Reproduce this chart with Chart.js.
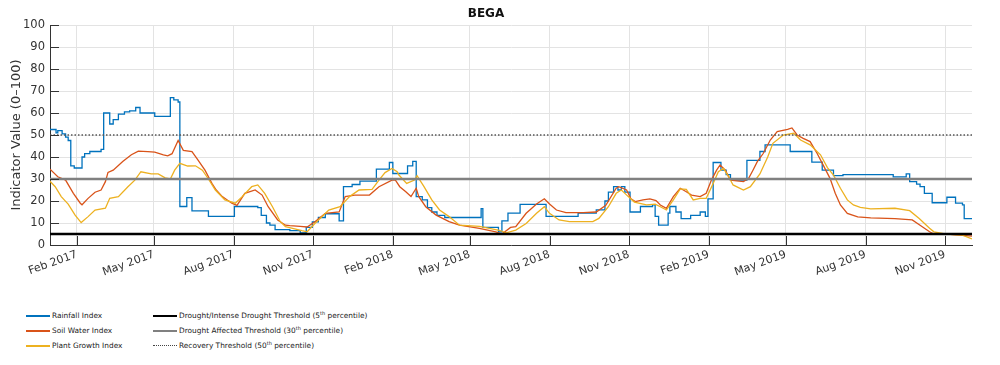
<!DOCTYPE html>
<html>
<head>
<meta charset="utf-8">
<script src="https://cdn.jsdelivr.net/npm/chart.js@4.4.1/dist/chart.umd.min.js"></script>
<style>
  body { margin: 0; background: #fff; }
  #wrap { position: relative; width: 1000px; height: 365px; }
  #chart { position: absolute; left: 0; top: 0; }
  .lg { position: absolute; font-family: "DejaVu Sans", sans-serif; font-size: 7.4px; color: #222; white-space: nowrap; line-height: 10px; }
  .lg i { position: absolute; left: -26px; top: 4px; width: 24px; height: 0; }
  .lg sup { font-size: 5px; line-height: 0; }
</style>
</head>
<body>
<div id="wrap">
  <canvas id="chart" width="1000" height="295"></canvas>
  <div class="lg" style="left:52px;top:311px"><i style="border-top:2px solid #0072BD"></i>Rainfall Index</div>
  <div class="lg" style="left:52px;top:326px"><i style="border-top:2px solid #D95319"></i>Soil Water Index</div>
  <div class="lg" style="left:52px;top:341px"><i style="border-top:2px solid #EDB120"></i>Plant Growth Index</div>
  <div class="lg" style="left:179px;top:311px"><i style="border-top:2.5px solid #000"></i>Drought/Intense Drought Threshold (5<sup>th</sup> percentile)</div>
  <div class="lg" style="left:179px;top:326px"><i style="border-top:2.5px solid #808080"></i>Drought Affected Threshold (30<sup>th</sup> percentile)</div>
  <div class="lg" style="left:179px;top:341px"><i style="border-top:1px dotted #444"></i>Recovery Threshold (50<sup>th</sup> percentile)</div>
</div>
<script>
// x range and month ticks
var startDate = "2017-01-01";
var endDate = "2019-12-02";
var tickDates = ["2017-02-01", "2017-05-01", "2017-08-01", "2017-11-01",
  "2018-02-01", "2018-05-01", "2018-08-01", "2018-11-01",
  "2019-02-01", "2019-05-01", "2019-08-01", "2019-11-01"];
var tickLabels = ["Feb 2017", "May 2017", "Aug 2017", "Nov 2017",
  "Feb 2018", "May 2018", "Aug 2018", "Nov 2018",
  "Feb 2019", "May 2019", "Aug 2019", "Nov 2019"];

// rainfall index: value holds until the next date
var rainDates = ["2017-01-01", "2017-01-08", "2017-01-10", "2017-01-15", "2017-01-19", "2017-01-22", "2017-01-25", "2017-01-29",
  "2017-02-07", "2017-02-10", "2017-02-16", "2017-03-01", "2017-03-04", "2017-03-11", "2017-03-15", "2017-03-21",
  "2017-03-28", "2017-04-03", "2017-04-10", "2017-04-15", "2017-05-02", "2017-05-20", "2017-05-24", "2017-05-29",
  "2017-05-31", "2017-06-08", "2017-06-14", "2017-07-03", "2017-08-02", "2017-08-29", "2017-09-02", "2017-09-08",
  "2017-09-12", "2017-09-18", "2017-10-05", "2017-10-17", "2017-10-24", "2017-10-31", "2017-11-07", "2017-11-15",
  "2017-12-01", "2017-12-06", "2017-12-16", "2017-12-25", "2018-01-13", "2018-01-28", "2018-02-01", "2018-02-18",
  "2018-02-24", "2018-02-28", "2018-03-07", "2018-03-13", "2018-03-18", "2018-03-24", "2018-04-02", "2018-05-14",
  "2018-05-16", "2018-06-03", "2018-06-07", "2018-06-14", "2018-06-28", "2018-07-28", "2018-09-03", "2018-09-24",
  "2018-10-04", "2018-10-08", "2018-10-14", "2018-10-19", "2018-10-23", "2018-10-27", "2018-11-02", "2018-11-14",
  "2018-11-28", "2018-12-01", "2018-12-05", "2018-12-16", "2018-12-18", "2018-12-25", "2018-12-31", "2019-01-11",
  "2019-01-22", "2019-01-28", "2019-01-31", "2019-02-06", "2019-02-15", "2019-02-21", "2019-02-26", "2019-03-17",
  "2019-04-01", "2019-04-07", "2019-05-06", "2019-05-31", "2019-06-12", "2019-06-25", "2019-07-06", "2019-09-02",
  "2019-09-17", "2019-09-21", "2019-09-29", "2019-10-03", "2019-10-08", "2019-10-17", "2019-11-03", "2019-11-13",
  "2019-11-21", "2019-11-23", "2019-12-02"];
var rainValues = [52.5, 51, 52, 50.5, 49, 47.5, 36, 35,
  40, 41.5, 42.5, 43.5, 60, 55, 57, 59.5,
  60.5, 61, 62.5, 60, 58.5, 67, 66, 65,
  17.5, 21.5, 15.5, 13, 17.5, 17, 13.5, 10,
  9, 7, 6.5, 5.5, 8, 10.5, 12.5, 14.2,
  11, 26.5, 27.5, 29, 34.5, 37.5, 32.5, 36,
  38, 22, 20.5, 17, 15, 13.5, 12.5, 16.5,
  8, 6, 11, 14.5, 18.5, 13, 14.5, 16,
  20, 24, 26.5, 25, 26.5, 24, 15, 17.5,
  18.3, 13, 9, 14.5, 17.5, 15, 12, 13.5,
  15, 13, 21, 37.5, 34, 32, 29.5, 38.5,
  42.5, 45.5, 42.5, 37.7, 34, 31.5, 32, 31,
  32.3, 28.8, 27.7, 26.5, 23.5, 19.2, 21.7, 19,
  18.2, 12, 12];

// soil water index
var soilDates = ["2017-01-01", "2017-01-10", "2017-01-19", "2017-01-28", "2017-02-05", "2017-02-07", "2017-02-14", "2017-02-22",
  "2017-03-01", "2017-03-06", "2017-03-09", "2017-03-15", "2017-03-26", "2017-04-05", "2017-04-13", "2017-04-24",
  "2017-05-02", "2017-05-12", "2017-05-17", "2017-05-22", "2017-05-29", "2017-06-04", "2017-06-14", "2017-06-21",
  "2017-06-29", "2017-07-07", "2017-07-12", "2017-07-19", "2017-07-30", "2017-08-05", "2017-08-14", "2017-08-26",
  "2017-09-03", "2017-09-10", "2017-09-21", "2017-09-30", "2017-10-05", "2017-10-17", "2017-10-25", "2017-11-03",
  "2017-11-15", "2017-12-01", "2017-12-08", "2017-12-19", "2018-01-05", "2018-01-16", "2018-01-31", "2018-02-04",
  "2018-02-09", "2018-02-16", "2018-02-22", "2018-02-28", "2018-03-03", "2018-03-11", "2018-03-23", "2018-04-07",
  "2018-04-19", "2018-05-12", "2018-05-31", "2018-06-07", "2018-06-17", "2018-06-23", "2018-07-05", "2018-07-17",
  "2018-07-26", "2018-08-01", "2018-08-09", "2018-08-20", "2018-09-09", "2018-09-24", "2018-10-05", "2018-10-17",
  "2018-10-20", "2018-10-29", "2018-11-03", "2018-11-08", "2018-11-17", "2018-11-25", "2018-12-02", "2018-12-07",
  "2018-12-14", "2018-12-22", "2018-12-30", "2019-01-06", "2019-01-12", "2019-01-22", "2019-01-29", "2019-02-04",
  "2019-02-10", "2019-02-14", "2019-02-20", "2019-02-26", "2019-03-13", "2019-03-19", "2019-03-24", "2019-03-29",
  "2019-04-05", "2019-04-13", "2019-04-21", "2019-05-03", "2019-05-08", "2019-05-14", "2019-05-21", "2019-05-29",
  "2019-06-06", "2019-06-13", "2019-06-21", "2019-06-27", "2019-07-03", "2019-07-11", "2019-07-23", "2019-08-07",
  "2019-09-04", "2019-09-24", "2019-10-03", "2019-10-14", "2019-10-19", "2019-11-07", "2019-12-02"];
var soilValues = [34.5, 31, 29.5, 23.5, 19, 18.3, 21.2, 24,
  25, 28.8, 33, 34, 38, 41, 42.7, 42.4,
  42.2, 41, 40.5, 41.5, 47.5, 43, 42.4, 38.6,
  34, 28, 25, 22, 19, 18, 23.5, 25,
  22.7, 17.4, 11.4, 9, 8.8, 8.5, 8.2, 10.6,
  14.4, 15, 22, 22.7, 22.7, 26.5, 29.5, 29.5,
  26.5, 24.2, 22, 25.8, 22, 17.4, 13.6, 10.6,
  9, 7.6, 6, 5, 8, 8.3, 14.4, 18.6,
  21, 18.6, 15.9, 14.7, 14.7, 15, 18, 25.8,
  26.5, 25, 21, 19.7, 20.5, 21, 20.2, 18.2,
  16.7, 22, 25.8, 24.2, 22.7, 22, 23.5, 29.5,
  34, 36.4, 34, 29.5, 28.8, 30.3, 34, 37.9,
  41.7, 47.7, 51.5, 52.6, 53.2, 50, 48.5, 47,
  41.7, 36.4, 30.3, 23.5, 18.2, 14.4, 12.8, 12.3,
  12, 11.4, 9, 6, 5, 4.8, 4];

// plant growth index
var plantDates = ["2017-01-01", "2017-01-07", "2017-01-14", "2017-01-22", "2017-01-30", "2017-02-06", "2017-02-14", "2017-02-22",
  "2017-03-06", "2017-03-11", "2017-03-21", "2017-04-01", "2017-04-09", "2017-04-16", "2017-04-28", "2017-05-06",
  "2017-05-14", "2017-05-20", "2017-05-25", "2017-05-31", "2017-06-09", "2017-06-18", "2017-06-26", "2017-07-03",
  "2017-07-11", "2017-07-22", "2017-08-03", "2017-08-11", "2017-08-22", "2017-08-29", "2017-09-06", "2017-09-15",
  "2017-09-24", "2017-09-30", "2017-10-19", "2017-10-25", "2017-11-03", "2017-11-19", "2017-12-02", "2017-12-13",
  "2017-12-24", "2018-01-08", "2018-01-16", "2018-01-23", "2018-01-31", "2018-02-06", "2018-02-08", "2018-02-17",
  "2018-02-26", "2018-03-01", "2018-03-09", "2018-03-18", "2018-03-27", "2018-04-07", "2018-04-19", "2018-05-12",
  "2018-06-04", "2018-06-12", "2018-06-23", "2018-07-05", "2018-07-17", "2018-07-26", "2018-08-01", "2018-08-12",
  "2018-08-24", "2018-09-20", "2018-09-27", "2018-10-08", "2018-10-17", "2018-10-23", "2018-10-31", "2018-11-07",
  "2018-11-21", "2018-12-01", "2018-12-07", "2018-12-14", "2018-12-22", "2018-12-30", "2019-01-06", "2019-01-14",
  "2019-01-22", "2019-01-29", "2019-02-06", "2019-02-12", "2019-02-18", "2019-02-24", "2019-03-01", "2019-03-13",
  "2019-03-21", "2019-04-01", "2019-04-10", "2019-04-16", "2019-04-28", "2019-05-10", "2019-05-18", "2019-05-29",
  "2019-06-10", "2019-06-18", "2019-06-25", "2019-07-03", "2019-07-11", "2019-07-18", "2019-07-26", "2019-08-07",
  "2019-09-04", "2019-09-21", "2019-10-02", "2019-10-14", "2019-10-19", "2019-11-01", "2019-11-21", "2019-12-02"];
var plantValues = [29, 26.5, 22, 18.6, 13.6, 10.2, 12.9, 15.9,
  16.7, 21.2, 22, 26.5, 29.5, 33.3, 32.3, 32.3,
  30.5, 30, 34, 37.1, 35.9, 36, 34, 30,
  25, 20.5, 19, 22, 26.5, 27.3, 23.5, 17.4,
  10.6, 8.3, 6.5, 6, 9.8, 15.9, 17.4, 22,
  25, 25.3, 29.5, 32.9, 34.8, 33.3, 31.8, 28,
  29.5, 31.5, 26.5, 20.5, 15.9, 12.9, 9, 8.5,
  6.7, 5.5, 6.8, 9.8, 14.4, 17.4, 14.4, 11.4,
  10.6, 10.6, 12.1, 17.4, 23.5, 25, 22, 19.5,
  18.2, 18.6, 17.4, 15.9, 20.5, 25.5, 25.3, 20.5,
  21.2, 21.2, 28, 33.3, 34.8, 31, 27.3, 25,
  26.5, 32.3, 40, 46.2, 50, 50.8, 47.7, 45.5,
  41, 35.2, 31.8, 25.8, 20.5, 18.2, 17.1, 16.4,
  16.7, 15.6, 12, 7.6, 6, 5, 4.5, 2.8];

// thresholds (percentiles)
var droughtLevel = 5;
var affectedLevel = 30;
var recoveryLevel = 50;

function dayNum(s) {
  return (Date.parse(s) - Date.parse(startDate)) / 86400000;
}
function toPoints(dates, values) {
  return dates.map(function (d, i) { return { x: dayNum(d), y: values[i] }; });
}
var xMin = dayNum(startDate);
var xMax = dayNum(endDate);
function flat(v) {
  return [{ x: xMin, y: v }, { x: xMax, y: v }];
}

// little inward tick marks like the original axes
var innerTicks = {
  id: "innerTicks",
  afterDatasetsDraw: function (chart) {
    var ctx = chart.ctx, a = chart.chartArea;
    var xs = chart.scales.x, ys = chart.scales.y;
    ctx.save();
    ctx.strokeStyle = "#333";
    ctx.lineWidth = 1;
    ctx.beginPath();
    xs.ticks.forEach(function (t) {
      var px = Math.round(xs.getPixelForValue(t.value)) + 0.5;
      ctx.moveTo(px, a.bottom);
      ctx.lineTo(px, a.bottom - 9);
    });
    ys.ticks.forEach(function (t) {
      var py = Math.round(ys.getPixelForValue(t.value)) + 0.5;
      ctx.moveTo(a.left, py);
      ctx.lineTo(a.left + 9, py);
    });
    ctx.stroke();
    ctx.restore();
  },
};

Chart.defaults.font.family = "'DejaVu Sans', sans-serif";
Chart.defaults.color = "#333";

var ctx = document.getElementById("chart");
var chart = new Chart(ctx, {
  type: "line",
  data: {
    datasets: [
      { label: "Drought/Intense Drought Threshold (5th percentile)", data: flat(droughtLevel), borderColor: "#000", borderWidth: 2.5, order: 0 },
      { label: "Drought Affected Threshold (30th percentile)", data: flat(affectedLevel), borderColor: "#808080", borderWidth: 2.5, order: 0 },
      { label: "Recovery Threshold (50th percentile)", data: flat(recoveryLevel), borderColor: "#555", borderWidth: 1.5, borderDash: [1.5, 2], order: 0 },
      { label: "Rainfall Index", data: toPoints(rainDates, rainValues), borderColor: "#0072BD", borderWidth: 1.3, stepped: true, order: 3 },
      { label: "Soil Water Index", data: toPoints(soilDates, soilValues), borderColor: "#D95319", borderWidth: 1.3, order: 2 },
      { label: "Plant Growth Index", data: toPoints(plantDates, plantValues), borderColor: "#EDB120", borderWidth: 1.3, order: 1 },
    ],
  },
  options: {
    responsive: false,
    animation: false,
    layout: { padding: { left: 0, right: 28, top: 0, bottom: 0 } },
    elements: { point: { radius: 0 }, line: { tension: 0 } },
    plugins: {
      legend: { display: false },
      tooltip: { enabled: false },
      title: {
        display: true,
        text: "BEGA",
        color: "#111",
        font: { size: 12, weight: "bold" },
        padding: { top: 7, bottom: 3.6 },
      },
    },
    scales: {
      x: {
        type: "linear",
        min: xMin,
        max: xMax,
        afterBuildTicks: function (scale) {
          scale.ticks = tickDates.map(function (d) { return { value: dayNum(d) }; });
        },
        afterFit: function (scale) { scale.height = 50; },
        grid: { color: "#e3e3e3", drawTicks: false },
        border: { color: "#333" },
        ticks: {
          autoSkip: false,
          maxRotation: 20,
          minRotation: 20,
          padding: 3,
          font: { size: 11 },
          callback: function (v, i) { return tickLabels[i]; },
        },
      },
      y: {
        min: 0,
        max: 100,
        afterFit: function (scale) { scale.width = 50; },
        grid: { color: "#e3e3e3", drawTicks: false },
        border: { color: "#333" },
        ticks: { stepSize: 10, padding: 5, font: { size: 11.5 } },
        title: {
          display: true,
          text: "Indicator Value (0\u2013100)",
          font: { size: 13 },
          padding: { top: 9, bottom: 0 },
        },
      },
    },
  },
  plugins: [innerTicks],
});
</script>
</body>
</html>
